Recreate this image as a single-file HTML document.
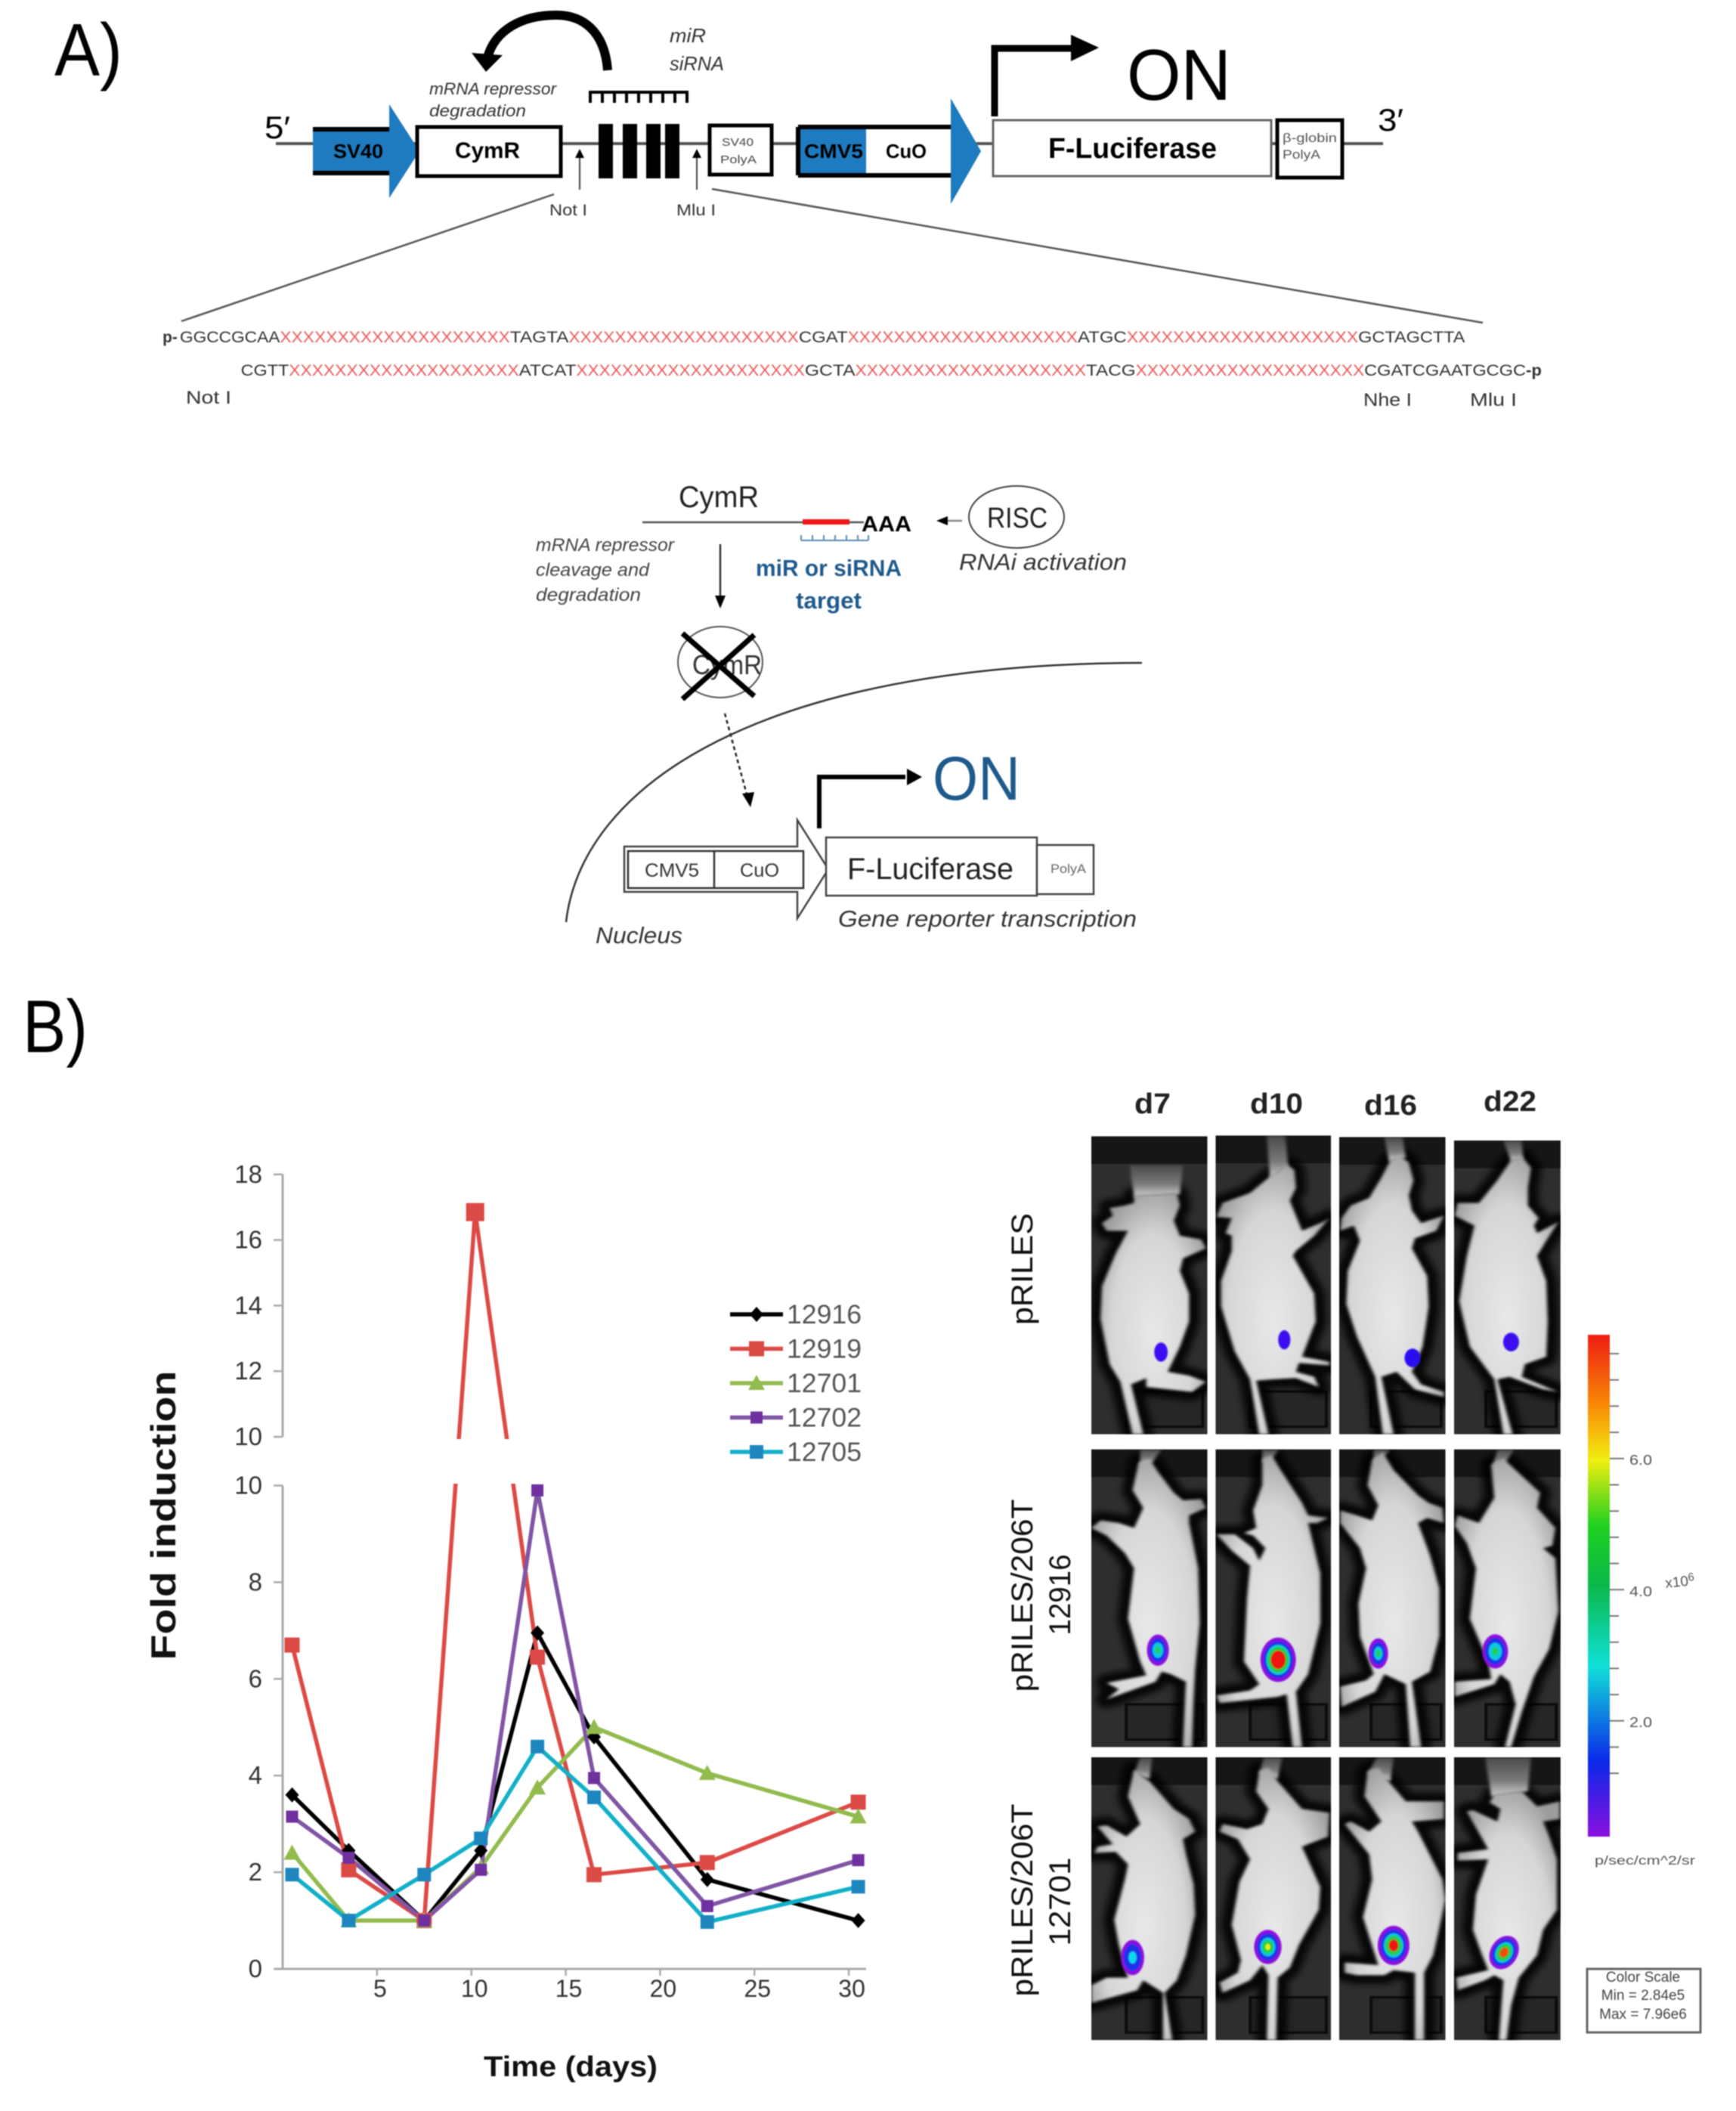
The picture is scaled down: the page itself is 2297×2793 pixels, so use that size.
<!DOCTYPE html>
<html lang="en">
<head>
<meta charset="utf-8">
<title>CymR miRNA reporter figure</title>
<style>
html,body{margin:0;padding:0;background:#fff;}
#figure{display:block;width:2297px;height:2793px;filter:blur(0.9px);font-family:"Liberation Sans",sans-serif;}
</style>
</head>
<body>
<svg id="figure" xmlns="http://www.w3.org/2000/svg" width="2297" height="2793" viewBox="0 0 2297 2793">
<defs>
<filter id="soft" x="-20%" y="-20%" width="140%" height="140%"><feGaussianBlur stdDeviation="12"/></filter>
<filter id="softer" x="-10%" y="-10%" width="120%" height="120%"><feGaussianBlur stdDeviation="5"/></filter>
<filter id="spot" x="-20%" y="-20%" width="140%" height="140%"><feGaussianBlur stdDeviation="2"/></filter>
<radialGradient id="skin" cx="50%" cy="58%" r="62%"><stop offset="0%" stop-color="#e8e8e8"/><stop offset="65%" stop-color="#d6d6d6"/><stop offset="100%" stop-color="#9c9c9c"/></radialGradient>
<linearGradient id="glare" x1="0" y1="0" x2="0" y2="1"><stop offset="0%" stop-color="#4a4a4a"/><stop offset="60%" stop-color="#7a7a7a"/><stop offset="100%" stop-color="#d0d0d0"/></linearGradient>
<linearGradient id="colorbar-gradient" x1="0" y1="0" x2="0" y2="1">
<stop offset="0%" stop-color="#ee1c12"/><stop offset="14%" stop-color="#f98a05"/><stop offset="25%" stop-color="#f0ee10"/><stop offset="38%" stop-color="#1fd01f"/><stop offset="50%" stop-color="#0ab84a"/><stop offset="66%" stop-color="#10e0d8"/><stop offset="85%" stop-color="#0a28e8"/><stop offset="100%" stop-color="#8a10e0"/>
</linearGradient>
</defs>
<rect width="2297" height="2793" fill="#fff"/>

<!-- PANEL A, top construct -->
<g>
<text x="72" y="100" font-size="98" textLength="90" lengthAdjust="spacingAndGlyphs">A)</text>
<line x1="365" y1="190" x2="1830" y2="190" stroke="#555" stroke-width="4"/>
<text x="350" y="183" font-size="42" textLength="34" lengthAdjust="spacingAndGlyphs">5′</text>
<text x="1823" y="173" font-size="42" textLength="34" lengthAdjust="spacingAndGlyphs">3′</text>

<path d="M414 171H515V138L555 200L515 262V229H414Z" fill="#1f7bbf"/>
<path d="M414 171H515M414 229H515" stroke="#000" stroke-width="6" fill="none"/>
<text x="441" y="209" font-size="26" font-weight="bold" textLength="66" lengthAdjust="spacingAndGlyphs">SV40</text>
<rect x="552" y="168" width="190" height="65" fill="#fff" stroke="#000" stroke-width="5"/>
<text x="602" y="209" font-size="30" font-weight="bold" textLength="86" lengthAdjust="spacingAndGlyphs">CymR</text>

<path d="M804 93C800 40 770 20 736 20C690 20 655 40 645 76" fill="none" stroke="#000" stroke-width="12"/>
<path d="M624 70L665 73L643 95Z" fill="#000"/>
<text x="886" y="56" font-size="26" font-style="italic" fill="#333" textLength="48" lengthAdjust="spacingAndGlyphs">miR</text>
<text x="886" y="93" font-size="26" font-style="italic" fill="#333" textLength="72" lengthAdjust="spacingAndGlyphs">siRNA</text>
<text x="568" y="125" font-size="22" font-style="italic" fill="#333" textLength="168" lengthAdjust="spacingAndGlyphs">mRNA repressor</text>
<text x="568" y="154" font-size="22" font-style="italic" fill="#333" textLength="128" lengthAdjust="spacingAndGlyphs">degradation</text>
<path d="M779 122H911M781 122V136M797 122V136M813 122V136M829 122V136M845 122V136M861 122V136M877 122V136M893 122V136M909 122V136" stroke="#000" stroke-width="4" fill="none"/>
<g fill="#000">
<rect x="792" y="164" width="19" height="72"/><rect x="824" y="164" width="19" height="72"/><rect x="855" y="164" width="19" height="72"/><rect x="880" y="164" width="19" height="72"/>
</g>
<rect x="939" y="166" width="82" height="65" fill="#fff" stroke="#000" stroke-width="5"/>
<text x="955" y="193" font-size="15" fill="#444" textLength="42" lengthAdjust="spacingAndGlyphs">SV40</text>
<text x="953" y="216" font-size="15" fill="#444" textLength="48" lengthAdjust="spacingAndGlyphs">PolyA</text>
<line x1="767" y1="251" x2="767" y2="205" stroke="#444" stroke-width="2"/>
<path d="M767 197L761 209H773Z" fill="#000"/>
<line x1="922" y1="251" x2="922" y2="205" stroke="#444" stroke-width="2"/>
<path d="M922 197L916 209H928Z" fill="#000"/>
<text x="727" y="285" font-size="21" fill="#333" textLength="50" lengthAdjust="spacingAndGlyphs">Not I</text>
<text x="895" y="285" font-size="21" fill="#333" textLength="52" lengthAdjust="spacingAndGlyphs">Mlu I</text>

<path d="M1056 168H1258V130L1298 200L1258 270V232H1056Z" fill="#fff"/>
<rect x="1056" y="168" width="90" height="64" fill="#1f7bbf"/>
<path d="M1258 130L1298 200L1258 270Z" fill="#1f7bbf"/>
<path d="M1056 168H1258M1056 232H1258M1056 168V232" stroke="#000" stroke-width="6" fill="none"/>
<text x="1064" y="209" font-size="26" font-weight="bold" textLength="78" lengthAdjust="spacingAndGlyphs">CMV5</text>
<text x="1172" y="209" font-size="26" font-weight="bold" textLength="54" lengthAdjust="spacingAndGlyphs">CuO</text>

<rect x="1314" y="159" width="368" height="74" fill="#fff" stroke="#666" stroke-width="3"/>
<text x="1387" y="209" font-size="38" font-weight="bold" textLength="223" lengthAdjust="spacingAndGlyphs">F-Luciferase</text>
<rect x="1690" y="159" width="86" height="76" fill="#fff" stroke="#000" stroke-width="5"/>
<text x="1697" y="188" font-size="17" fill="#555" textLength="72" lengthAdjust="spacingAndGlyphs">β-globin</text>
<text x="1697" y="210" font-size="17" fill="#555" textLength="50" lengthAdjust="spacingAndGlyphs">PolyA</text>
<path d="M1316 154V64H1421" fill="none" stroke="#000" stroke-width="9"/>
<path d="M1417 46L1454 63L1417 81Z" fill="#000"/>
<text x="1491" y="132" font-size="96" textLength="138" lengthAdjust="spacingAndGlyphs">ON</text>
</g>

<!-- Sequence insert -->
<line x1="733" y1="257" x2="240" y2="425" stroke="#555" stroke-width="2.5"/>
<line x1="942" y1="250" x2="1962" y2="427" stroke="#555" stroke-width="2.5"/>
<g font-size="21" fill="#333" transform="translate(1.2,-4) scale(0.995,1)">
<text x="215" y="457" font-weight="bold">p-</text>
<text x="238" y="457" textLength="133" lengthAdjust="spacingAndGlyphs">GGCCGCAA</text>
<text x="371" y="457" fill="#ea5a5a" textLength="306" lengthAdjust="spacingAndGlyphs">XXXXXXXXXXXXXXXXXXXX</text>
<text x="677" y="457" textLength="78" lengthAdjust="spacingAndGlyphs">TAGTA</text>
<text x="755" y="457" fill="#ea5a5a" textLength="306" lengthAdjust="spacingAndGlyphs">XXXXXXXXXXXXXXXXXXXX</text>
<text x="1061" y="457" textLength="65" lengthAdjust="spacingAndGlyphs">CGAT</text>
<text x="1126" y="457" fill="#ea5a5a" textLength="306" lengthAdjust="spacingAndGlyphs">XXXXXXXXXXXXXXXXXXXX</text>
<text x="1432" y="457" textLength="65" lengthAdjust="spacingAndGlyphs">ATGC</text>
<text x="1497" y="457" fill="#ea5a5a" textLength="308" lengthAdjust="spacingAndGlyphs">XXXXXXXXXXXXXXXXXXXX</text>
<text x="1805" y="457" textLength="142" lengthAdjust="spacingAndGlyphs">GCTAGCTTA</text>

<text x="319" y="501" textLength="64" lengthAdjust="spacingAndGlyphs">CGTT</text>
<text x="383" y="501" fill="#ea5a5a" textLength="306" lengthAdjust="spacingAndGlyphs">XXXXXXXXXXXXXXXXXXXX</text>
<text x="689" y="501" textLength="76" lengthAdjust="spacingAndGlyphs">ATCAT</text>
<text x="765" y="501" fill="#ea5a5a" textLength="304" lengthAdjust="spacingAndGlyphs">XXXXXXXXXXXXXXXXXXXX</text>
<text x="1069" y="501" textLength="67" lengthAdjust="spacingAndGlyphs">GCTA</text>
<text x="1136" y="501" fill="#ea5a5a" textLength="307" lengthAdjust="spacingAndGlyphs">XXXXXXXXXXXXXXXXXXXX</text>
<text x="1443" y="501" textLength="66" lengthAdjust="spacingAndGlyphs">TACG</text>
<text x="1509" y="501" fill="#ea5a5a" textLength="304" lengthAdjust="spacingAndGlyphs">XXXXXXXXXXXXXXXXXXXX</text>
<text x="1813" y="501" textLength="215" lengthAdjust="spacingAndGlyphs">CGATCGAATGCGC</text>
<text x="2028" y="501" font-weight="bold" textLength="21" lengthAdjust="spacingAndGlyphs">-p</text>
</g>
<text x="246" y="534" font-size="24" fill="#333" textLength="60" lengthAdjust="spacingAndGlyphs">Not I</text>
<text x="1804" y="537" font-size="24" fill="#333" textLength="64" lengthAdjust="spacingAndGlyphs">Nhe I</text>
<text x="1945" y="537" font-size="24" fill="#333" textLength="62" lengthAdjust="spacingAndGlyphs">Mlu I</text>

<!-- Mechanism -->
<g transform="translate(8,8)">
<text x="890" y="663" font-size="40" fill="#222" textLength="106" lengthAdjust="spacingAndGlyphs">CymR</text>
<line x1="842" y1="683" x2="1135" y2="683" stroke="#555" stroke-width="2.5"/>
<rect x="1054" y="679" width="62" height="7" fill="#f01818"/>
<text x="1132" y="695" font-size="29" font-weight="bold" textLength="66" lengthAdjust="spacingAndGlyphs">AAA</text>
<path d="M1052 707H1141M1052 700V707M1067 700V707M1082 700V707M1097 700V707M1112 700V707M1127 700V707M1141 700V707" stroke="#5a8ab5" stroke-width="2" fill="none"/>
<line x1="1265" y1="681" x2="1240" y2="681" stroke="#888" stroke-width="2.5"/>
<path d="M1231 681L1246 675V687Z" fill="#000"/>
<ellipse cx="1337" cy="676" rx="63" ry="41" fill="#fff" stroke="#444" stroke-width="2"/>
<text x="1298" y="690" font-size="38" fill="#222" textLength="80" lengthAdjust="spacingAndGlyphs">RISC</text>
<text x="1261" y="746" font-size="31" font-style="italic" fill="#333" textLength="222" lengthAdjust="spacingAndGlyphs">RNAi activation</text>
<text x="701" y="721" font-size="24" font-style="italic" fill="#444" textLength="183" lengthAdjust="spacingAndGlyphs">mRNA repressor</text>
<text x="701" y="754" font-size="24" font-style="italic" fill="#444" textLength="150" lengthAdjust="spacingAndGlyphs">cleavage and</text>
<text x="701" y="787" font-size="24" font-style="italic" fill="#444" textLength="139" lengthAdjust="spacingAndGlyphs">degradation</text>
<line x1="945" y1="712" x2="945" y2="785" stroke="#333" stroke-width="2.5"/>
<path d="M945 797L938 780H952Z" fill="#000"/>
<text x="992" y="754" font-size="31" font-weight="bold" fill="#1f5a8c" textLength="193" lengthAdjust="spacingAndGlyphs">miR or siRNA</text>
<text x="1045" y="797" font-size="31" font-weight="bold" fill="#1f5a8c" textLength="87" lengthAdjust="spacingAndGlyphs">target</text>
<ellipse cx="945" cy="868" rx="56" ry="47" fill="none" stroke="#555" stroke-width="2"/>
<text x="908" y="884" font-size="36" fill="#333" textLength="92" lengthAdjust="spacingAndGlyphs">CymR</text>
<path d="M895 830L990 913M990 832L895 917" stroke="#000" stroke-width="7" fill="none"/>
<path d="M951 936L982 1050" stroke="#222" stroke-width="2.5" stroke-dasharray="5 4" fill="none"/>
<path d="M985 1060L974 1042L990 1040Z" fill="#000"/>
<path d="M741 1212C762 1030 1000 870 1503 869" stroke="#333" stroke-width="2.5" fill="none"/>
<text x="780" y="1240" font-size="31" font-style="italic" fill="#333" textLength="115" lengthAdjust="spacingAndGlyphs">Nucleus</text>
<text x="1226" y="1050" font-size="82" fill="#1f5a8c" textLength="116" lengthAdjust="spacingAndGlyphs">ON</text>
<path d="M1076 1088V1020H1190" fill="none" stroke="#000" stroke-width="6"/>
<path d="M1192 1009L1212 1020L1192 1031Z" fill="#000"/>
<path d="M818 1112H1047V1077L1088 1142L1047 1207V1172H818Z" fill="#fff" stroke="#444" stroke-width="2.5"/>
<rect x="823" y="1118" width="232" height="49" fill="#fff" stroke="#333" stroke-width="2.5"/>
<line x1="937" y1="1118" x2="937" y2="1167" stroke="#333" stroke-width="2.5"/>
<text x="845" y="1152" font-size="25" fill="#333" textLength="72" lengthAdjust="spacingAndGlyphs">CMV5</text>
<text x="971" y="1152" font-size="25" fill="#333" textLength="52" lengthAdjust="spacingAndGlyphs">CuO</text>
<rect x="1085" y="1100" width="279" height="77" fill="#fff" stroke="#444" stroke-width="2.5"/>
<text x="1113" y="1155" font-size="40" fill="#222" textLength="220" lengthAdjust="spacingAndGlyphs">F-Luciferase</text>
<rect x="1364" y="1110" width="75" height="65" fill="#fff" stroke="#444" stroke-width="2.5"/>
<text x="1382" y="1147" font-size="17" fill="#666" textLength="47" lengthAdjust="spacingAndGlyphs">PolyA</text>
<text x="1101" y="1218" font-size="31" font-style="italic" fill="#333" textLength="395" lengthAdjust="spacingAndGlyphs">Gene reporter transcription</text>
</g>

<text x="30" y="1392" font-size="98" textLength="86" lengthAdjust="spacingAndGlyphs">B)</text>

<g id="chart"></g>

<!-- Imaging panel -->
<g>
<text x="1501" y="1473" font-size="38" font-weight="bold" fill="#222" textLength="48" lengthAdjust="spacingAndGlyphs">d7</text>
<text x="1654" y="1473" font-size="38" font-weight="bold" fill="#222" textLength="70" lengthAdjust="spacingAndGlyphs">d10</text>
<text x="1805" y="1475" font-size="38" font-weight="bold" fill="#222" textLength="70" lengthAdjust="spacingAndGlyphs">d16</text>
<text x="1963" y="1470" font-size="38" font-weight="bold" fill="#222" textLength="70" lengthAdjust="spacingAndGlyphs">d22</text>
<text transform="translate(1366,1679) rotate(-90)" text-anchor="middle" font-size="40" fill="#111" textLength="148" lengthAdjust="spacingAndGlyphs">pRILES</text>
<text transform="translate(1366,2111) rotate(-90)" text-anchor="middle" font-size="40" fill="#111" textLength="255" lengthAdjust="spacingAndGlyphs">pRILES/206T</text>
<text transform="translate(1416,2110) rotate(-90)" text-anchor="middle" font-size="40" fill="#111" textLength="107" lengthAdjust="spacingAndGlyphs">12916</text>
<text transform="translate(1366,2514) rotate(-90)" text-anchor="middle" font-size="40" fill="#111" textLength="255" lengthAdjust="spacingAndGlyphs">pRILES/206T</text>
<text transform="translate(1416,2516) rotate(-90)" text-anchor="middle" font-size="40" fill="#111" textLength="117" lengthAdjust="spacingAndGlyphs">12701</text>
<g id="mice"></g>
<rect x="2101" y="1766" width="29" height="664" fill="url(#colorbar-gradient)"/>
<g id="colorbar-ticks"></g>
<text x="2156" y="1938" font-size="18" fill="#555" textLength="30" lengthAdjust="spacingAndGlyphs">6.0</text>
<text x="2156" y="2112" font-size="18" fill="#555" textLength="30" lengthAdjust="spacingAndGlyphs">4.0</text>
<text x="2156" y="2285" font-size="18" fill="#555" textLength="30" lengthAdjust="spacingAndGlyphs">2.0</text>
<text transform="translate(2204,2101) rotate(-6)" font-size="19" fill="#555">x10<tspan font-size="15" dy="-6">6</tspan></text>
<text x="2110" y="2467" font-size="17" fill="#555" textLength="133" lengthAdjust="spacingAndGlyphs">p/sec/cm^2/sr</text>
<rect x="2100" y="2605" width="150" height="84" fill="#fff" stroke="#666" stroke-width="3"/>
<text x="2174" y="2622" text-anchor="middle" font-size="19" fill="#444">Color Scale</text>
<text x="2174" y="2646" text-anchor="middle" font-size="19" fill="#444">Min = 2.84e5</text>
<text x="2174" y="2671" text-anchor="middle" font-size="19" fill="#444">Max = 7.96e6</text>
</g>
</svg>

<script>
// ---- Chart data ----
const days = [0.5, 3.5, 7.5, 10.5, 13.5, 16.5, 22.5, 30.5];
const days12919 = [0.5, 3.5, 7.5, 10.2, 13.5, 16.5, 22.5, 30.5];
const seriesNames = ['12916', '12919', '12701', '12702', '12705'];
const values12916 = [3.6, 2.45, 1, 2.45, 6.95, 4.8, 1.85, 1];
const values12919 = [6.7, 2.05, 1, 16.85, 6.45, 1.95, 2.2, 3.45];
const values12701 = [2.4, 1, 1, 2.1, 3.75, 5.0, 4.05, 3.15];
const values12702 = [3.15, 2.3, 1, 2.05, 9.9, 3.95, 1.3, 2.25];
const values12705 = [1.95, 1, 1.95, 2.7, 4.6, 3.55, 0.97, 1.7];
const xTicks = [5, 10, 15, 20, 25, 30];
const yTicksLower = [0, 2, 4, 6, 8, 10];
const yTicksUpper = [10, 12, 14, 16, 18];

const seriesValues = [values12916, values12919, values12701, values12702, values12705];
const seriesDays = [days, days12919, days, days, days];
const SVGNS = 'http://www.w3.org/2000/svg';
const seriesStyle = [
  {line: '#000000', mark: '#000000', shape: 'diamond', size: 9},
  {line: '#dc4a46', mark: '#dc4a46', shape: 'square', size: 10},
  {line: '#92bb4e', mark: '#92bb4e', shape: 'triangle', size: 10},
  {line: '#8055a5', mark: '#7030a0', shape: 'square', size: 8},
  {line: '#12b0c8', mark: '#1e86bf', shape: 'square', size: 9}
];
function xScale(d) { return 374 + 24.97 * d; }
function yLower(v) { return 2605 - 63.95 * v; }
function yUpper(v) { return 1901 - 43.4 * (v - 10); }
function yScale(v) { return v > 10 ? yUpper(v) : yLower(v); }
function mk(tag, attrs, parent) {
  const el = document.createElementNS(SVGNS, tag);
  for (const k in attrs) el.setAttribute(k, attrs[k]);
  parent.appendChild(el);
  return el;
}
function drawMarker(parent, shape, cx, cy, size, fill) {
  let el;
  if (shape === 'diamond') {
    el = mk('path', {d: 'M' + cx + ' ' + (cy - size - 1) + 'L' + (cx + size) + ' ' + cy + 'L' + cx + ' ' + (cy + size + 1) + 'L' + (cx - size) + ' ' + cy + 'Z', fill: fill}, parent);
  } else if (shape === 'triangle') {
    el = mk('path', {d: 'M' + cx + ' ' + (cy - size - 1) + 'L' + (cx + size + 1) + ' ' + (cy + size - 1) + 'L' + (cx - size - 1) + ' ' + (cy + size - 1) + 'Z', fill: fill}, parent);
  } else {
    el = mk('rect', {x: cx - size, y: cy - size, width: 2 * size, height: 2 * size, fill: fill}, parent);
  }
  return el;
}
(function drawChart() {
  const chart = document.getElementById('chart');
  const axisColor = '#aaaaaa';
  const upperAxis = mk('line', {x1: xScale(0), x2: xScale(0), y1: yUpper(18), y2: yUpper(10), stroke: axisColor, 'stroke-width': 3}, chart);
  
  
  const lowerAxis = mk('line', {x1: xScale(0), x2: xScale(0), y1: yLower(10), y2: yLower(0), stroke: axisColor, 'stroke-width': 3}, chart);
  
  
  const xAxis = mk('line', {x1: 364, x2: 1146, y1: yLower(0), y2: yLower(0), stroke: axisColor, 'stroke-width': 3}, chart);
  
  

  xTicks.forEach(function (t) {
    const tick = mk('line', {x1: xScale(t), x2: xScale(t), y1: yLower(0), y2: yLower(0) + 9, stroke: axisColor, 'stroke-width': 2.5}, chart);
    
    
    const label = mk('text', {x: xScale(t) + 4, y: 2642, 'text-anchor': 'middle', 'font-size': 32, fill: '#333'}, chart);
    label.textContent = t;
    
    
  });

  seriesNames.forEach(function (name, i) {
    const st = seriesStyle[i];
    const pts = seriesDays[i].map(function (d, j) { return xScale(d) + ',' + yScale(seriesValues[i][j]); }).join(' ');
    const poly = mk('polyline', {points: pts, fill: 'none', stroke: st.line, 'stroke-width': 5.5, 'stroke-linejoin': 'miter'}, chart);
    
    
  });

  const mask = mk('rect', {x: 335, y: 1904, width: 820, height: 59, fill: '#ffffff'}, chart);
  
  

  seriesNames.forEach(function (name, i) {
    const st = seriesStyle[i];
    seriesDays[i].forEach(function (d, j) {
      const v = seriesValues[i][j];
      const size = v > 10 ? st.size + 2 : st.size;
      const m = drawMarker(chart, st.shape, xScale(d), yScale(v), size, st.mark);
      
      
    });
  });

  yTicksLower.forEach(function (t) {
    const tick = mk('line', {x1: 362, x2: xScale(0), y1: yLower(t), y2: yLower(t), stroke: axisColor, 'stroke-width': 2.5}, chart);
    
    
    const label = mk('text', {x: 347, y: yLower(t) + 11, 'text-anchor': 'end', 'font-size': 33, fill: '#333'}, chart);
    label.textContent = t;
    
    
  });
  yTicksUpper.forEach(function (t) {
    const tick = mk('line', {x1: 362, x2: xScale(0), y1: yUpper(t), y2: yUpper(t), stroke: axisColor, 'stroke-width': 2.5}, chart);
    
    
    const label = mk('text', {x: 347, y: yUpper(t) + 11, 'text-anchor': 'end', 'font-size': 33, fill: '#333'}, chart);
    label.textContent = t;
    
    
  });

  const yTitle = mk('text', {transform: 'translate(232,2005) rotate(-90)', 'text-anchor': 'middle', 'font-size': 46, 'font-weight': 'bold', fill: '#111', textLength: 383, lengthAdjust: 'spacingAndGlyphs'}, chart);
  yTitle.textContent = 'Fold  induction';
  
  
  const xTitle = mk('text', {x: 640, y: 2747, 'font-size': 38, 'font-weight': 'bold', fill: '#111', textLength: 230, lengthAdjust: 'spacingAndGlyphs'}, chart);
  xTitle.textContent = 'Time (days)';
  
  

  seriesNames.forEach(function (name, i) {
    const st = seriesStyle[i];
    const ly = 1739 + i * 45.5;
    const entry = mk('g', {}, chart);
    
    
    mk('line', {x1: 966, x2: 1036, y1: ly, y2: ly, stroke: st.line, 'stroke-width': 5.5}, entry);
    drawMarker(entry, st.shape, 1001, ly, st.size, st.mark);
    const t = mk('text', {x: 1041, y: ly + 12, 'font-size': 35, fill: '#555', textLength: 99, lengthAdjust: 'spacingAndGlyphs'}, entry);
    t.textContent = name;
  });
})();

// ---- Mouse imagery (traced illustration, drawn in a local grid scaled to the panels) ----
const rowOrigins = [1495, 1915, 2320];
const colSpans = [[10, 390], [417, 795], [822, 1170], [1198, 1547]];
const rowSpans = [
  [[25, 1208], [22, 1208], [28, 1208], [42, 1208]],
  [[8, 1190], [8, 1190], [8, 1190], [8, 1190]],
  [[15, 1138], [15, 1138], [15, 1138], [15, 1138]]
];
const mouseShapes = [
  [
    '150,260 290,250 300,300 280,360 300,420 370,435 385,470 310,510 300,560 330,650 330,760 300,860 260,960 330,975 385,1000 340,1040 190,1020 190,985 140,1010 180,1208 145,1208 105,1000 70,930 40,750 45,620 90,490 130,400 60,400 45,370 80,340 70,310 120,300 150,290',
    '620,165 650,135 675,160 680,230 660,280 680,340 700,400 770,365 790,350 740,420 680,480 670,500 740,650 745,760 700,900 790,920 790,935 690,925 680,960 740,980 755,1020 680,985 600,990 550,995 590,1208 560,1208 530,990 480,880 435,700 435,600 470,480 470,420 450,410 470,350 420,345 440,290 530,250 590,190',
    '990,120 1020,100 1050,130 1065,200 1050,260 1060,320 1090,370 1165,340 1140,400 1070,430 1060,470 1110,580 1115,700 1095,860 1060,960 1090,1010 1165,1040 1165,1060 1070,1030 1010,960 960,980 1000,1208 965,1208 940,980 880,820 845,690 850,560 890,440 870,380 825,400 830,350 860,300 920,270 960,190',
    '1385,120 1420,105 1450,150 1440,230 1440,300 1475,350 1460,380 1470,410 1540,365 1500,440 1470,500 1500,600 1505,760 1500,900 1430,930 1420,980 1540,1040 1490,1030 1380,980 1340,990 1390,1208 1360,1208 1330,990 1250,860 1215,680 1240,500 1265,380 1200,340 1210,290 1280,290 1340,200'
  ],
  [
    '165,60 200,45 230,100 280,180 310,210 370,205 385,240 330,270 330,300 360,480 365,700 350,880 345,1000 340,1190 310,1190 320,930 270,900 240,890 220,930 60,1000 100,960 60,935 190,905 170,850 130,680 150,480 120,420 60,350 10,320 40,290 100,300 150,320 180,240 145,170',
    '570,50 600,30 630,90 700,220 720,270 785,280 750,300 720,300 760,500 760,700 720,900 680,970 700,1190 670,1190 650,980 620,990 430,1015 420,985 530,965 560,940 510,850 520,600 530,470 470,410 420,345 480,345 540,400 560,450 580,400 540,350 510,340 550,320 540,250 570,150',
    '930,50 965,20 1000,90 1080,190 1115,220 1160,240 1165,300 1110,280 1080,300 1120,430 1150,560 1150,750 1120,890 1060,930 1090,1190 1055,1190 1040,940 970,900 940,970 830,1030 825,950 910,925 935,900 890,750 885,620 910,480 890,400 825,300 825,250 880,270 930,290 950,230 915,150',
    '1320,70 1360,45 1400,90 1480,180 1470,240 1530,320 1520,390 1490,400 1530,440 1540,650 1510,800 1460,910 1420,1050 1385,1190 1365,1190 1400,1020 1380,930 1350,900 1330,940 1200,990 1200,930 1320,920 1310,850 1250,680 1270,480 1240,380 1200,310 1210,270 1280,300 1330,200'
  ],
  [
    '150,65 200,110 280,220 330,260 350,310 310,340 320,400 345,520 350,640 320,800 290,900 250,950 275,1138 245,1138 245,950 180,900 160,940 10,990 10,920 60,890 130,890 100,760 85,660 120,500 130,440 90,390 20,395 30,370 80,360 30,290 60,285 125,330 170,280 130,170',
    '560,70 590,55 620,110 700,220 790,235 785,330 720,360 700,370 760,530 755,620 690,760 660,850 620,890 615,1138 585,1138 590,880 570,840 530,900 440,950 430,910 490,870 500,820 470,680 495,510 530,420 490,340 430,310 440,280 520,300 570,280 590,220 550,150',
    '915,70 950,55 990,120 1040,190 1165,190 1165,260 1060,270 1080,310 1160,500 1170,580 1130,800 1100,870 1100,1138 1070,1138 1070,870 1000,860 970,880 880,880 840,870 840,830 950,840 900,650 930,500 920,400 840,280 860,270 920,310 960,270 905,170',
    '1330,160 1420,150 1470,210 1545,190 1545,260 1490,270 1510,330 1535,420 1535,620 1490,700 1470,800 1410,890 1385,1000 1370,1138 1345,1138 1360,900 1330,880 1300,900 1210,940 1205,890 1310,860 1290,800 1260,700 1270,560 1310,420 1210,425 1210,395 1310,380 1240,230 1260,225 1340,270 1350,220 1315,195'
  ]
];
// head-restraint glare columns: row, col, polygon
const glares = [
  [0, 0, '135,140 310,140 300,255 150,265'],
  [0, 1, '585,22 645,22 655,140 595,195'],
  [0, 2, '970,28 1030,28 1040,110 985,125'],
  [0, 3, '1360,42 1420,42 1425,115 1385,125'],
  [1, 0, '170,8 240,8 210,60 170,70'],
  [1, 1, '570,8 625,8 605,40 570,60'],
  [1, 2, '935,8 990,8 975,30 935,60'],
  [1, 3, '1340,8 1395,8 1370,55 1325,75'],
  [2, 0, '170,15 210,15 200,100 150,80'],
  [2, 1, '575,15 635,15 620,100 560,80'],
  [2, 2, '945,15 1000,15 990,110 915,80'],
  [2, 3, '1300,15 1450,15 1440,150 1320,170']
];
// hotspot: row, centre x, centre y, x radius, y radius, rotation, colour rings as colour:fraction
const hotspots = [
  [0, 238, 882, 22, 38, 0, ['#3a10f0:1']],
  [0, 642, 833, 20, 38, 0, ['#3a10f0:1']],
  [0, 1062, 905, 26, 37, 0, ['#2a10f0:1']],
  [0, 1385, 842, 26, 37, 0, ['#3a10f0:1']],
  [1, 228, 805, 36, 62, 0, ['#8a10e0:1', '#1a30e8:0.75', '#10c8e0:0.5', '#20d040:0.22']],
  [1, 622, 843, 58, 88, 0, ['#8a10e0:1', '#1a30e8:0.82', '#10d0d0:0.68', '#20d040:0.58', '#f01808:0.42']],
  [1, 950, 818, 32, 60, 0, ['#8a10e0:1', '#1a30e8:0.72', '#10c8e0:0.45', '#20d040:0.22']],
  [1, 1333, 810, 42, 68, 0, ['#8a10e0:1', '#1a30e8:0.78', '#10c8e0:0.52', '#20d040:0.22']],
  [2, 145, 810, 38, 70, 0, ['#8a10e0:1', '#1a30e8:0.75', '#10d8e8:0.35']],
  [2, 588, 768, 45, 68, 0, ['#8a10e0:1', '#1a30e8:0.78', '#10c8e0:0.55', '#20d040:0.38', '#f0ee10:0.18']],
  [2, 1000, 762, 52, 78, 0, ['#8a10e0:1', '#1a30e8:0.8', '#10c8e0:0.62', '#20d040:0.5', '#f01808:0.3']],
  [2, 1362, 790, 46, 68, 18, ['#8a10e0:1', '#1a30e8:0.82', '#10c8e0:0.62', '#20d040:0.5', '#f05008:0.3']]
];
(function drawMice() {
  const root = document.getElementById('mice');
  rowOrigins.forEach(function (originY, r) {
    const rowGroup = mk('g', {transform: 'translate(1440,' + originY + ') scale(0.4039,0.3333)'}, root);
    
    
    colSpans.forEach(function (cs, c) {
      const ys = rowSpans[r][c];
      const g = mk('g', {}, rowGroup);
      
      
      const clipId = 'clip-' + r + '-' + c;
      const clip = mk('clipPath', {id: clipId}, g);
      mk('rect', {x: cs[0], y: ys[0], width: cs[1] - cs[0], height: ys[1] - ys[0]}, clip);
      g.setAttribute('clip-path', 'url(#' + clipId + ')');
      mk('rect', {x: cs[0], y: ys[0], width: cs[1] - cs[0], height: ys[1] - ys[0], fill: '#2e2e2e'}, g);
      const w = cs[1] - cs[0];
      mk('rect', {x: cs[0], y: ys[0], width: w, height: 110, fill: '#161616'}, g);
      mk('rect', {x: cs[0] + w * 0.3, y: ys[1] - 170, width: w * 0.66, height: 140, fill: '#262626', stroke: '#0c0c0c', 'stroke-width': 10}, g);
      mk('polygon', {points: mouseShapes[r][c], fill: 'none', stroke: '#050505', 'stroke-width': 70, 'stroke-linejoin': 'round', filter: 'url(#soft)', opacity: 0.85}, g);
      glares.filter(function (e) { return e[0] === r && e[1] === c; }).forEach(function (e) {
        mk('polygon', {points: e[2], fill: 'url(#glare)', filter: 'url(#softer)'}, g);
      });
      mk('polygon', {points: mouseShapes[r][c], fill: 'url(#skin)', 'stroke-linejoin': 'round', filter: 'url(#softer)'}, g);
    });
    hotspots.filter(function (h) { return h[0] === r; }).forEach(function (h, idx) {
      const g = mk('g', {transform: 'rotate(' + h[5] + ' ' + h[1] + ' ' + h[2] + ')', filter: 'url(#spot)'}, rowGroup);
      
      
      h[6].forEach(function (ring) {
        const parts = ring.split(':');
        const f = parseFloat(parts[1]);
        mk('ellipse', {cx: h[1], cy: h[2], rx: h[3] * f, ry: h[4] * f, fill: parts[0]}, g);
      });
    });
  });
  const ticks = document.getElementById('colorbar-ticks');
  for (let i = 0; i < 17; i++) {
    const y = 1791 + i * 34.7;
    const major = (i === 4 || i === 9 || i === 14);
    const t = mk('line', {x1: 2130, x2: major ? 2149 : 2142, y1: y, y2: y, stroke: '#777', 'stroke-width': 2}, ticks);
    
    
  }
})();
</script>
</body>
</html>
